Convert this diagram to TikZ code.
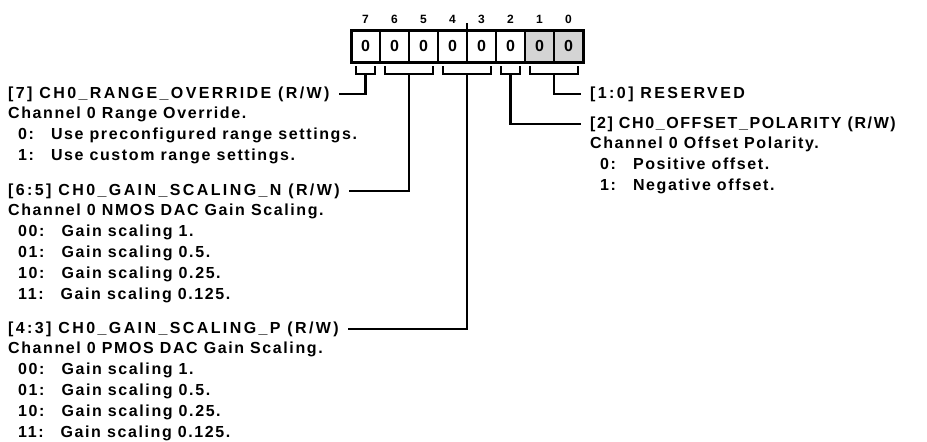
\documentclass[tikz,border=0pt]{standalone}
\usepackage{fontspec}
\setmainfont{Liberation Sans}[LetterSpace=10]
\newfontfamily\titlefont{Liberation Sans}[LetterSpace=15]
\usepackage{xcolor}
\usetikzlibrary{positioning, fit}

\definecolor{resvgray}{HTML}{D4D4D4}
\newcommand{\fieldcode}[2]{\hspace*{10pt}#1:\hspace{17pt}#2}

\begin{document}
\begin{tikzpicture}[
        x=1pt, y=-1pt,
        bitnum/.style={font=\fontsize{12}{12}\selectfont\bfseries, inner sep=0pt, label distance=6pt},
        bitcell/.style={rectangle, draw, line width=2pt, minimum width=29pt, minimum height=32pt, inner sep=0pt, outer sep=0pt, font=\fontsize{16}{16}\selectfont\bfseries, label={[bitnum]above:#1}},
        resvcell/.style={bitcell=#1, fill=resvgray},
        fieldtitle/.style={font=\titlefont\fontsize{16}{21}\selectfont\bfseries, inner sep=0pt},
        fielddesc/.style={font=\fontsize{16}{21}\selectfont\bfseries, inner sep=0pt, align=left},
        brace/.style={line width=2.5pt},
        conn/.style={line width=2.5pt, shorten >=9pt}
    ]

    \useasboundingbox (0,0) rectangle (927,442);

    % Register cells
    \node[bitcell=7] (b7) at (365.5,46) {0};
    \node[bitcell=6, right=0pt of b7] (b6) {0};
    \node[bitcell=5, right=0pt of b6] (b5) {0};
    \node[bitcell=4, right=0pt of b5] (b4) {0};
    \node[bitcell=3, right=0pt of b4] (b3) {0};
    \node[bitcell=2, right=0pt of b3] (b2) {0};
    \node[resvcell=1, right=0pt of b2] (b1) {0};
    \node[resvcell=0, right=0pt of b1] (b0) {0};
    \node[draw, line width=3pt, fit=(b7)(b0), inner sep=0pt] (reg) {};
    \draw[line width=1.5pt] (b4.north east) -- ++(0,7pt);

    % Brackets
    \draw[brace] ([xshift=5pt,yshift=-4pt]b7.south west) -- ++(0,-8pt) -| ([xshift=-5pt,yshift=-4pt]b7.south east);
    \draw[brace] ([xshift=5pt,yshift=-4pt]b6.south west) -- ++(0,-8pt) -| ([xshift=-5pt,yshift=-4pt]b5.south east);
    \draw[brace] ([xshift=5pt,yshift=-4pt]b4.south west) -- ++(0,-8pt) -| ([xshift=-5pt,yshift=-4pt]b3.south east);
    \draw[brace] ([xshift=5pt,yshift=-4pt]b2.south west) -- ++(0,-8pt) -| ([xshift=-5pt,yshift=-4pt]b2.south east);
    \draw[brace] ([xshift=5pt,yshift=-4pt]b1.south west) -- ++(0,-8pt) -| ([xshift=-5pt,yshift=-4pt]b0.south east);
    \coordinate (k7) at ([yshift=-12pt]b7.south);
    \coordinate (k65) at ([yshift=-12pt]b6.south east);
    \coordinate (k43) at ([yshift=-12pt]b4.south east);
    \coordinate (k2) at ([yshift=-12pt]b2.south);
    \coordinate (k10) at ([yshift=-12pt]b1.south east);

    % Fields, left side
    \node[fieldtitle, anchor=west] (f7) at (8,94) {[7] CH0\_RANGE\_OVERRIDE (R/W)};
    \node[fielddesc, below=5pt of f7.south west, anchor=north west] (d7) {Channel 0 Range Override.\\
        \fieldcode{0}{Use preconfigured range settings.}\\
        \fieldcode{1}{Use custom range settings.}};

    \node[fieldtitle, anchor=west] (f65) at (8,191) {[6:5] CH0\_GAIN\_SCALING\_N (R/W)};
    \node[fielddesc, below=5pt of f65.south west, anchor=north west] (d65) {Channel 0 NMOS DAC Gain Scaling.\\
        \fieldcode{00}{Gain scaling 1.}\\
        \fieldcode{01}{Gain scaling 0.5.}\\
        \fieldcode{10}{Gain scaling 0.25.}\\
        \fieldcode{11}{Gain scaling 0.125.}};

    \node[fieldtitle, anchor=west] (f43) at (8,329) {[4:3] CH0\_GAIN\_SCALING\_P (R/W)};
    \node[fielddesc, below=5pt of f43.south west, anchor=north west] (d43) {Channel 0 PMOS DAC Gain Scaling.\\
        \fieldcode{00}{Gain scaling 1.}\\
        \fieldcode{01}{Gain scaling 0.5.}\\
        \fieldcode{10}{Gain scaling 0.25.}\\
        \fieldcode{11}{Gain scaling 0.125.}};

    % Fields, right side
    \node[fieldtitle, anchor=west] (f10) at (590,94) {[1:0] RESERVED};
    \node[fielddesc, anchor=west] (f2) at (590,124) {[2] CH0\_OFFSET\_POLARITY (R/W)};
    \node[fielddesc, below=5pt of f2.south west, anchor=north west] (d2) {Channel 0 Offset Polarity.\\
        \fieldcode{0}{Positive offset.}\\
        \fieldcode{1}{Negative offset.}};

    % Connectors
    \draw[conn] (k7) |- (f7);
    \draw[conn] (k65) |- (f65);
    \draw[conn] (k43) |- (f43);
    \draw[conn] (k2) |- (f2);
    \draw[conn] (k10) |- (f10);

\end{tikzpicture}
\end{document}
